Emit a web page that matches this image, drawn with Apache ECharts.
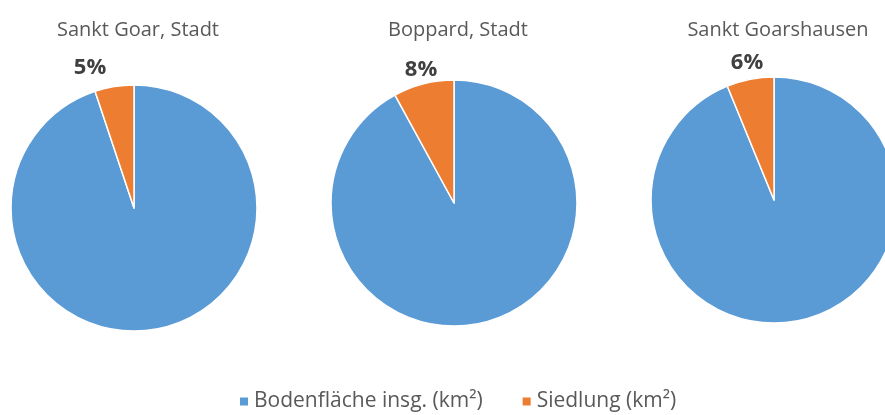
<!DOCTYPE html>
<html>
<head>
<meta charset="utf-8">
<script src="https://cdn.jsdelivr.net/npm/echarts@6/dist/echarts.min.js"></script>
<style>
  html, body { margin: 0; padding: 0; background: #ffffff; }
  #chart { width: 885px; height: 415px; }
</style>
</head>
<body>
<div id="chart"></div>
<script>
// Municipalities shown, one pie each
const places = ['Sankt Goar, Stadt', 'Boppard, Stadt', 'Sankt Goarshausen'];
// Series names
const seriesNames = ['Bodenfläche insg. (km²)', 'Siedlung (km²)'];
// Land area and settlement area per municipality, km²
const bodenflaeche = [22.2, 75.1, 18.2];
const siedlung = [1.2, 6.5, 1.2];

const colors = ['#5B9BD5', '#ED7D31'];
const centers = [[134, 208], [454, 203], [774, 200]];
const radius = 123;
// where each percentage label sits, relative to its pie centre
const labelOffsets = [[-44, -140], [-33, -133], [-27, -137]];
const FONT = '"Open Sans", "Noto Sans", sans-serif';

const chart = echarts.init(document.getElementById('chart'), null, { renderer: 'canvas' });

const titles = places.map((p, i) => ({
  text: p,
  left: centers[i][0] - 1,
  top: 15,
  textAlign: 'center',
  textStyle: { fontFamily: FONT, fontSize: 20, fontWeight: 'normal', color: '#595959' }
}));

const series = places.map((p, i) => ({
  type: 'pie',
  name: p,
  center: centers[i],
  radius: radius,
  startAngle: 90,
  clockwise: true,
  animation: false,
  silent: true,
  itemStyle: { borderColor: '#ffffff', borderWidth: 1.5 },
  label: { show: false },
  labelLine: { show: false },
  percentPrecision: 0,
  data: [
    { name: seriesNames[0], value: bodenflaeche[i], itemStyle: { color: colors[0] } },
    {
      name: seriesNames[1], value: siedlung[i], itemStyle: { color: colors[1] },
      label: {
        show: true,
        position: 'outside',
        formatter: '{d}%',
        fontFamily: FONT,
        fontSize: 22,
        fontWeight: 'bold',
        color: '#404040'
      }
    }
  ],
  labelLayout: function (params) {
    const c = centers[params.seriesIndex];
    const o = labelOffsets[params.seriesIndex];
    return { x: c[0] + o[0], y: c[1] + o[1], align: 'center', verticalAlign: 'middle' };
  }
}));

chart.setOption({
  backgroundColor: '#ffffff',
  color: colors,
  title: titles,
  legend: {
    data: seriesNames,
    left: 233,
    top: 386,
    icon: 'rect',
    itemWidth: 10,
    itemHeight: 10,
    itemGap: 38,
    textStyle: { fontFamily: FONT, fontSize: 21, color: '#595959' }
  },
  series: series
});
</script>
</body>
</html>
